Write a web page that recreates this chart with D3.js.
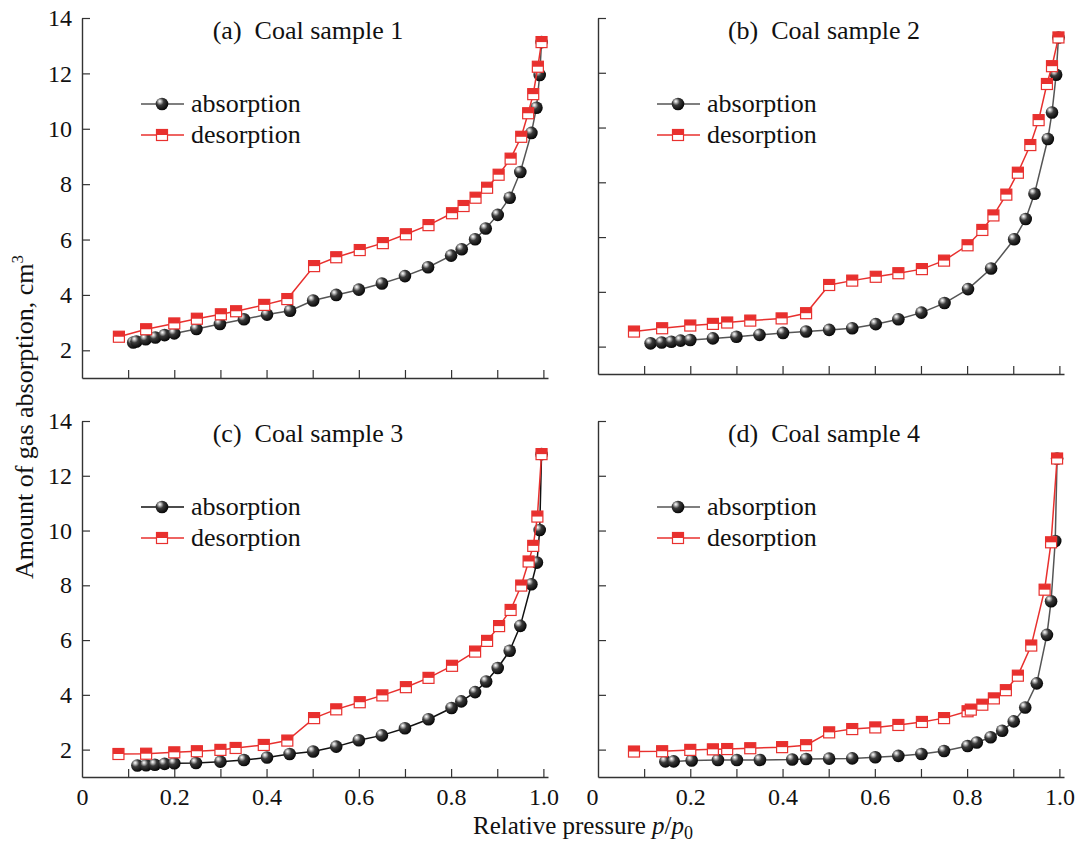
<!DOCTYPE html>
<html>
<head>
<meta charset="utf-8">
<script src="https://cdn.jsdelivr.net/npm/d3@7"></script>
<style>
  html, body { margin: 0; padding: 0; background: #fff; }
  svg { display: block; }
  text { font-family: "Liberation Serif", "Times New Roman", serif; fill: #111; }
</style>
</head>
<body>
<svg id="chart" width="1079" height="846"></svg>
<script>
// ── Data (relative pressure p/p0, amount of gas) ──
const absorption1 = [[0.111,2.28],[0.118,2.32],[0.138,2.40],[0.159,2.46],[0.179,2.55],[0.200,2.61],[0.248,2.77],[0.299,2.95],[0.351,3.12],[0.401,3.29],[0.451,3.43],[0.501,3.80],[0.551,4.00],[0.600,4.19],[0.650,4.41],[0.700,4.68],[0.750,5.00],[0.800,5.42],[0.823,5.65],[0.852,6.01],[0.875,6.40],[0.901,6.89],[0.927,7.51],[0.950,8.44],[0.974,9.85],[0.985,10.76],[0.992,11.94],[0.996,13.13]];
const desorption1 = [[0.080,2.49],[0.139,2.76],[0.200,2.97],[0.249,3.14],[0.301,3.30],[0.334,3.41],[0.395,3.64],[0.445,3.85],[0.503,5.04],[0.551,5.36],[0.602,5.62],[0.652,5.87],[0.702,6.19],[0.751,6.52],[0.802,6.95],[0.827,7.21],[0.853,7.51],[0.878,7.87],[0.903,8.34],[0.929,8.92],[0.952,9.71],[0.967,10.56],[0.978,11.25],[0.988,12.24],[0.996,13.13]];

const absorption2 = [[0.114,2.12],[0.138,2.15],[0.159,2.18],[0.179,2.22],[0.200,2.24],[0.249,2.30],[0.300,2.36],[0.350,2.43],[0.401,2.50],[0.451,2.55],[0.501,2.61],[0.551,2.67],[0.602,2.82],[0.651,3.00],[0.701,3.24],[0.751,3.59],[0.802,4.10],[0.852,4.85],[0.902,5.92],[0.927,6.66],[0.946,7.58],[0.975,9.58],[0.984,10.55],[0.993,11.93],[0.998,13.29]];
const desorption2 = [[0.078,2.55],[0.139,2.67],[0.200,2.77],[0.249,2.83],[0.280,2.88],[0.330,2.95],[0.398,3.03],[0.451,3.22],[0.501,4.25],[0.551,4.41],[0.602,4.55],[0.651,4.68],[0.702,4.83],[0.750,5.14],[0.801,5.70],[0.833,6.26],[0.857,6.79],[0.885,7.55],[0.910,8.35],[0.937,9.36],[0.955,10.27],[0.973,11.59],[0.984,12.24],[0.998,13.29]];

const absorption3 = [[0.120,1.42],[0.139,1.43],[0.158,1.45],[0.179,1.48],[0.200,1.50],[0.247,1.51],[0.300,1.56],[0.351,1.62],[0.401,1.71],[0.450,1.84],[0.501,1.93],[0.551,2.11],[0.600,2.34],[0.650,2.52],[0.700,2.78],[0.751,3.11],[0.801,3.52],[0.822,3.76],[0.852,4.10],[0.876,4.49],[0.901,4.98],[0.927,5.61],[0.950,6.52],[0.974,8.04],[0.986,8.83],[0.992,10.02],[0.996,12.79]];
const desorption3 = [[0.079,1.84],[0.139,1.85],[0.200,1.90],[0.249,1.94],[0.300,1.99],[0.333,2.06],[0.394,2.17],[0.445,2.33],[0.503,3.15],[0.551,3.47],[0.602,3.73],[0.651,3.98],[0.702,4.28],[0.751,4.62],[0.802,5.06],[0.852,5.58],[0.878,5.97],[0.904,6.51],[0.929,7.10],[0.952,7.99],[0.968,8.87],[0.978,9.44],[0.987,10.51],[0.996,12.79]];

const absorption4 = [[0.146,1.57],[0.164,1.57],[0.203,1.60],[0.260,1.62],[0.301,1.62],[0.351,1.62],[0.421,1.64],[0.451,1.66],[0.501,1.67],[0.551,1.68],[0.601,1.72],[0.651,1.77],[0.701,1.84],[0.750,1.95],[0.801,2.13],[0.821,2.26],[0.851,2.45],[0.876,2.69],[0.901,3.03],[0.926,3.54],[0.951,4.42],[0.973,6.19],[0.982,7.42],[0.991,9.62],[0.995,12.63]];
const desorption4 = [[0.078,1.93],[0.139,1.94],[0.200,1.99],[0.249,2.01],[0.280,2.02],[0.330,2.05],[0.399,2.09],[0.451,2.16],[0.501,2.63],[0.551,2.75],[0.601,2.81],[0.651,2.90],[0.702,3.01],[0.750,3.15],[0.801,3.40],[0.808,3.46],[0.833,3.64],[0.858,3.87],[0.884,4.17],[0.910,4.70],[0.939,5.80],[0.968,7.84],[0.982,9.57],[0.995,12.63]];

const panelTitles = ['(a)  Coal sample 1', '(b)  Coal sample 2', '(c)  Coal sample 3', '(d)  Coal sample 4'];
const seriesNames = ['absorption', 'desorption'];
const yTickValues = [2, 4, 6, 8, 10, 12, 14];
const xTickValues = [0.1, 0.2, 0.3, 0.4, 0.5, 0.6, 0.7, 0.8, 0.9, 1.0];
const xLabelValues = [0, 0.2, 0.4, 0.6, 0.8, 1.0];

// ── Layout ──
const RED = '#e8302e';
const panels = [
  { abs: absorption1, des: desorption1, x0: 82,  y0: 18,  y1: 378, absColor: '#555', yLabels: true,  xLabels: false },
  { abs: absorption2, des: desorption2, x0: 598, y0: 18,  y1: 374, absColor: '#555', yLabels: false, xLabels: false },
  { abs: absorption3, des: desorption3, x0: 82,  y0: 421, y1: 777, absColor: '#111', yLabels: true,  xLabels: true },
  { abs: absorption4, des: desorption4, x0: 598, y0: 421, y1: 777, absColor: '#555', yLabels: false, xLabels: true },
];
const plotW = 466;

const svg = d3.select('#chart');

// sphere gradient for absorption markers
const grad = svg.append('defs').append('radialGradient')
  .attr('id', 'sphere').attr('cx', '38%').attr('cy', '36%').attr('r', '70%')
  .attr('fx', '32%').attr('fy', '28%');
grad.append('stop').attr('offset', '0%').attr('stop-color', '#ffffff');
grad.append('stop').attr('offset', '14%').attr('stop-color', '#c8c8c8');
grad.append('stop').attr('offset', '42%').attr('stop-color', '#3a3a3a');
grad.append('stop').attr('offset', '100%').attr('stop-color', '#000000');

function drawSphere(g, x, y) {
  g.append('circle').attr('cx', x).attr('cy', y).attr('r', 6.3)
    .attr('fill', 'url(#sphere)');
}

function drawHalfSquare(g, x, y) {
  const s = 11;
  g.append('rect').attr('x', x - s / 2).attr('y', y - s / 2).attr('width', s).attr('height', s)
    .attr('fill', '#fff').attr('stroke', RED).attr('stroke-width', 1.2);
  g.append('rect').attr('x', x - s / 2).attr('y', y - s / 2).attr('width', s).attr('height', s / 2)
    .attr('fill', RED);
}

panels.forEach((p, i) => {
  const x = d3.scaleLinear().domain([0, 1.01]).range([p.x0, p.x0 + plotW]);
  const y = d3.scaleLinear().domain([1, 14]).range([p.y1, p.y0]);
  const g = svg.append('g');

  // ── Axes ──
  const yAxis = d3.axisLeft(y).tickValues(yTickValues).tickSize(-8).tickSizeOuter(0).tickPadding(10)
    .tickFormat(p.yLabels ? d3.format('d') : () => '');
  const yG = g.append('g').attr('transform', 'translate(' + p.x0 + ',0)').call(yAxis);

  const xAxis = d3.axisBottom(x).tickValues(xTickValues).tickSize(-8).tickSizeOuter(0).tickFormat(() => '');
  const xG = g.append('g').attr('transform', 'translate(0,' + p.y1 + ')').call(xAxis);

  [yG, xG].forEach(a => {
    a.select('.domain').attr('stroke', '#333').attr('stroke-width', 1.4);
    a.selectAll('.tick line').attr('stroke', '#333').attr('stroke-width', 1.2);
    a.selectAll('text').attr('font-family', '"Liberation Serif", serif').attr('font-size', 24).attr('fill', '#111');
  });

  if (p.xLabels) {
    const lab = d3.axisBottom(x).tickValues(xLabelValues).tickSize(0).tickPadding(11)
      .tickFormat(d => d === 0 ? '0' : d3.format('.1f')(d));
    const lg = g.append('g').attr('transform', 'translate(0,' + p.y1 + ')').call(lab);
    lg.select('.domain').remove();
    lg.selectAll('text').attr('font-family', '"Liberation Serif", serif').attr('font-size', 24).attr('fill', '#111');
    // right-hand panel: its "0" sits a little left, clear of the neighbour's "1.0"
    if (p.x0 > 300) lg.selectAll('text').filter(d => d === 0).attr('x', -6);
  }

  // ── Title ──
  g.append('text')
    .attr('x', p.x0 + 226).attr('y', p.y0 + 21)
    .attr('text-anchor', 'middle').attr('font-size', 26)
    .style('white-space', 'pre')
    .text(panelTitles[i]);

  // ── Series ──
  const line = d3.line().x(d => x(d[0])).y(d => y(d[1]));
  g.append('path').datum(p.abs).attr('d', line)
    .attr('fill', 'none').attr('stroke', p.absColor).attr('stroke-width', 1.5);
  const absG = g.append('g');
  p.abs.forEach(d => drawSphere(absG, x(d[0]), y(d[1])));

  g.append('path').datum(p.des).attr('d', line)
    .attr('fill', 'none').attr('stroke', RED).attr('stroke-width', 1.5);
  const desG = g.append('g');
  p.des.forEach(d => drawHalfSquare(desG, x(d[0]), y(d[1])));

  // ── Legend ──
  const lx = p.x0 + 59, ly = p.y0 + 86;
  const leg = g.append('g');
  leg.append('line').attr('x1', lx).attr('x2', lx + 43).attr('y1', ly).attr('y2', ly)
    .attr('stroke', p.absColor).attr('stroke-width', 1.5);
  drawSphere(leg, lx + 21, ly);
  leg.append('line').attr('x1', lx).attr('x2', lx + 43).attr('y1', ly + 31).attr('y2', ly + 31)
    .attr('stroke', RED).attr('stroke-width', 1.5);
  drawHalfSquare(leg, lx + 21, ly + 31);
  seriesNames.forEach((name, k) => {
    leg.append('text').attr('x', lx + 50).attr('y', ly + k * 31 + 8)
      .attr('font-size', 26).text(name);
  });
});

// ── Axis titles ──
const yt = svg.append('text')
  .attr('transform', 'translate(33,417) rotate(-90)')
  .attr('text-anchor', 'middle').attr('font-size', 26);
yt.append('tspan').text('Amount of gas absorption, cm');
yt.append('tspan').attr('dy', -10).attr('font-size', 17).text('3');

const xt = svg.append('text')
  .attr('x', 583).attr('y', 834)
  .attr('text-anchor', 'middle').attr('font-size', 25);
xt.append('tspan').text('Relative pressure ');
xt.append('tspan').attr('font-style', 'italic').text('p');
xt.append('tspan').text('/');
xt.append('tspan').attr('font-style', 'italic').text('p');
xt.append('tspan').attr('dy', 5).attr('font-size', 18).text('0');
</script>
</body>
</html>
